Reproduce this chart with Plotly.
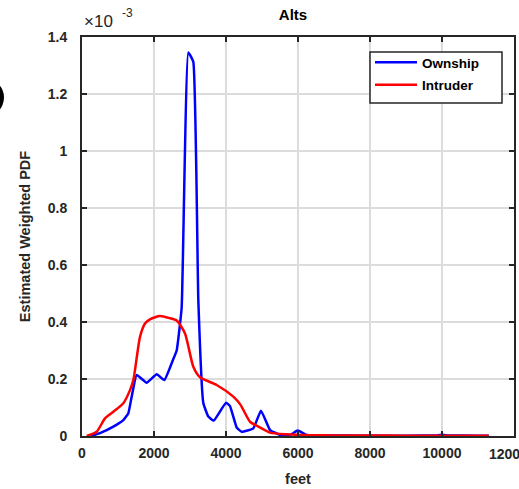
import plotly.graph_objects as go

# Altitude (feet)
own_x = [250, 500, 870, 1148, 1287, 1380, 1519, 1796, 2074, 2287, 2537, 2630, 2768, 2953, 3092,
         3231, 3370, 3509, 3660, 4000, 4111, 4296, 4436, 4759, 4972, 5222, 5500,
         5800, 5990, 6240, 7000, 8000, 9000, 9800, 10000, 10200, 11000, 11300]
# Estimated weighted PDF (x 1e-3)
own_y = [0.0, 0.01, 0.033, 0.056, 0.08, 0.138, 0.214, 0.187, 0.217, 0.196, 0.27, 0.30, 0.45, 1.346, 1.313,
         0.477, 0.116, 0.068, 0.054, 0.117, 0.105, 0.03, 0.015, 0.027, 0.089, 0.021, 0.004,
         0.005, 0.019, 0.004, 0.002, 0.001, 0.001, 0.002, 0.004, 0.002, 0.001, 0.001]

int_x = [130, 407, 639, 870, 1148, 1333, 1426, 1611, 1750, 1900, 2167, 2444, 2630, 2861, 3092, 3278,
         3741, 4204, 4400, 4667, 4898, 5222, 5685, 6333, 7000, 8000, 9000, 10000, 11300]
int_y = [0.0, 0.015, 0.062, 0.085, 0.115, 0.161, 0.196, 0.348, 0.395, 0.41, 0.421, 0.413, 0.405, 0.36, 0.243, 0.206,
         0.179, 0.138, 0.11, 0.05, 0.033, 0.012, 0.006, 0.003, 0.002, 0.002, 0.001, 0.001, 0.001]

series_names = ["Ownship", "Intruder"]
x_ticks = [0, 2000, 4000, 6000, 8000, 10000, 12000]
x_ticktext = ["0", "2000", "4000", "6000", "8000", "10000", ""]
x_edge_label = "12000"
y_ticks = [0, 0.2, 0.4, 0.6, 0.8, 1.0, 1.2, 1.4]
y_ticktext = ["0", "0.2", "0.4", "0.6", "0.8", "1", "1.2", "1.4"]

FONT = "Liberation Sans, Arial, sans-serif"
AX = "#262626"
W, H = 519, 489
L, R, T, B = 82, 5, 37, 53
PW, PH = W - L - R, H - T - B


def px_x(p):
    return (p - L) / PW


def px_y(p):
    return (H - B - p) / PH


fig = go.Figure()
fig.add_trace(go.Scatter(x=own_x, y=own_y, mode="lines", name=series_names[0], legendgroup="a",
                         line=dict(color="#0000ff", width=2.5, shape="spline", smoothing=0.35)))
fig.add_trace(go.Scatter(x=int_x, y=int_y, mode="lines", name=series_names[1], legendgroup="b",
                         line=dict(color="#ff0000", width=2.5, shape="spline", smoothing=0.6)))

axis_common = dict(showline=True, linecolor=AX, linewidth=2, mirror="ticks",
                   ticks="inside", ticklen=5, tickwidth=2, tickcolor=AX, automargin=False,
                   showgrid=True, gridcolor="#dcdcdc", gridwidth=1.5, zeroline=False,
                   tickfont=dict(family=FONT, size=14, color=AX, weight="bold"))

fig.update_xaxes(range=[0, 12000], tickvals=x_ticks, ticktext=x_ticktext, ticklabelstandoff=3,
                 title=dict(text="<b>feet</b>", font=dict(family=FONT, size=14.5, color=AX), standoff=14),
                 **axis_common)
fig.update_yaxes(range=[0, 1.4], tickvals=y_ticks, ticktext=y_ticktext, ticklabelstandoff=10,
                 title=dict(text="<b>Estimated Weighted PDF</b>", font=dict(family=FONT, size=14.5, color=AX), standoff=14),
                 **axis_common)

fig.update_layout(
    width=W, height=H,
    margin=dict(l=L, r=R, t=T, b=B, autoexpand=False),
    paper_bgcolor="white", plot_bgcolor="white",
    title=dict(text="<b>Alts</b>", x=293 / W, xanchor="center", y=1 - 15 / H, yanchor="middle",
               font=dict(family=FONT, size=15, color="black")),
    legend=dict(x=px_x(370), y=px_y(47), xanchor="left", yanchor="top",
                bgcolor="rgba(0,0,0,0)", borderwidth=0, traceorder="grouped", tracegroupgap=2,
                itemwidth=42,
                font=dict(family=FONT, size=13.5, color="black", weight="bold")),
    showlegend=True,
    annotations=[
        dict(text="×10", xref="paper", yref="paper", x=px_x(82), y=px_y(21),
             xanchor="left", yanchor="middle", showarrow=False,
             font=dict(family=FONT, size=17, color=AX)),
        dict(text="-3", xref="paper", yref="paper", x=px_x(120), y=px_y(13),
             xanchor="left", yanchor="middle", showarrow=False,
             font=dict(family=FONT, size=12, color=AX)),
        dict(text=x_edge_label, xref="x", yref="paper", x=12000, y=0, yshift=-8, xshift=-27,
             xanchor="left", yanchor="top", showarrow=False,
             font=dict(family=FONT, size=14, color=AX, weight="bold")),
    ],
    shapes=[
        dict(type="rect", xref="paper", yref="paper",
             x0=px_x(370), x1=px_x(502), y0=px_y(103), y1=px_y(52),
             fillcolor="white", line=dict(color=AX, width=1.5), layer="above"),
        dict(type="circle", xref="paper", yref="paper",
             x0=px_x(-35), x1=px_x(4), y0=px_y(117), y1=px_y(78),
             fillcolor="black", line=dict(color="black", width=0), layer="above"),
    ],
)

fig.write_html("out.html", config={"displayModeBar": False},
               post_script="document.body.style.margin='0';document.body.style.overflow='hidden';")
